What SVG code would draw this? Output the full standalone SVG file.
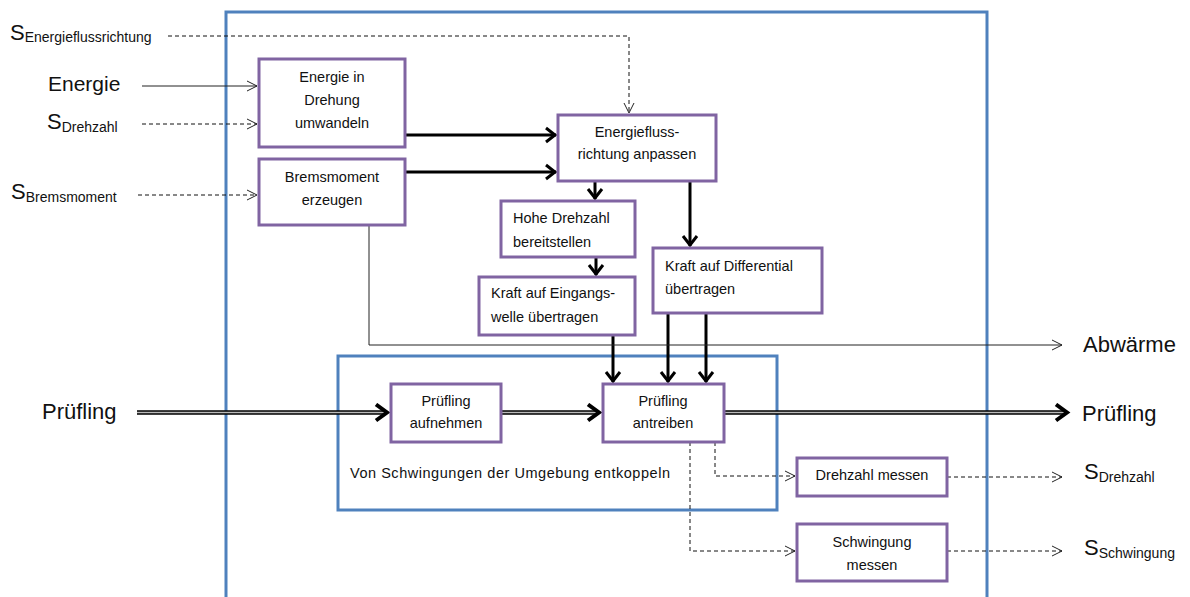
<svg xmlns="http://www.w3.org/2000/svg" width="1190" height="597" viewBox="0 0 1190 597">
<style>
text{font-family:"Liberation Sans",Arial,sans-serif;fill:#111}
.bx{fill:#fff;stroke:#8064A2;stroke-width:3}
.bl{fill:none;stroke:#4F81BD;stroke-width:3}
.t{font-size:14.5px}
.c{text-anchor:middle}
.thin{fill:none;stroke:#222;stroke-width:1}
.dash{fill:none;stroke:#111;stroke-width:1;stroke-dasharray:4 3}
.thick{fill:none;stroke:#000;stroke-width:3}
.big{font-size:22px}
</style>
<defs>
<marker id="oa" markerUnits="userSpaceOnUse" markerWidth="14" markerHeight="14" viewBox="-12 -7 14 14" refX="0" refY="0" orient="auto"><path d="M-10,-5 L0,0 L-10,5" fill="none" stroke="#222" stroke-width="1"/></marker>
<marker id="ta" markerUnits="userSpaceOnUse" markerWidth="18" markerHeight="18" viewBox="-14 -9 16 18" refX="0" refY="0" orient="auto"><path d="M-10,-7 L-1,0 L-10,7" fill="none" stroke="#000" stroke-width="3"/></marker>
<marker id="da" markerUnits="userSpaceOnUse" markerWidth="20" markerHeight="20" viewBox="-16 -10 18 20" refX="0" refY="0" orient="auto"><path d="M-12,-8 L-1,0 L-12,8" fill="none" stroke="#000" stroke-width="4"/></marker>
</defs>

<g id="containers">
<rect id="outer" class="bl" x="226" y="12" width="761" height="620"/>
<rect id="inner" class="bl" x="338" y="356" width="439" height="154"/>
<text class="t" x="350" y="478" textLength="320" lengthAdjust="spacing">Von Schwingungen der Umgebung entkoppeln</text>
</g>

<g id="connectors">
<path class="dash" d="M168,36 H629 V113" marker-end="url(#oa)"/>
<path class="thin" d="M142,86 H257" marker-end="url(#oa)"/>
<path class="dash" d="M142,124 H257" marker-end="url(#oa)"/>
<path class="dash" d="M138,195 H257" marker-end="url(#oa)"/>
<path class="thick" d="M405,135 H556" marker-end="url(#ta)"/>
<path class="thick" d="M405,172 H556" marker-end="url(#ta)"/>
<path class="thick" d="M595,181 V199" marker-end="url(#ta)"/>
<path class="thick" d="M690,181 V246" marker-end="url(#ta)"/>
<path class="thick" d="M596,257 V275" marker-end="url(#ta)"/>
<path class="thick" d="M613,335 V382" marker-end="url(#ta)"/>
<path class="thick" d="M668,313 V382" marker-end="url(#ta)"/>
<path class="thick" d="M706,313 V382" marker-end="url(#ta)"/>
<path class="thin" d="M369,225 V345 H1062" marker-end="url(#oa)"/>
<g id="pruefling-flow">
<path d="M137,412.5 H385" stroke="#000" stroke-width="4.5" fill="none"/>
<path d="M137,412.5 H385" stroke="#bbb" stroke-width="1.3" fill="none"/>
<path d="M375,412.5 H388" stroke="none" fill="none" marker-end="url(#da)"/>
<path d="M501,412.5 H597" stroke="#000" stroke-width="4.5" fill="none"/>
<path d="M501,412.5 H597" stroke="#bbb" stroke-width="1.3" fill="none"/>
<path d="M590,412.5 H600" stroke="none" fill="none" marker-end="url(#da)"/>
<path d="M724,412.5 H1064" stroke="#000" stroke-width="4.5" fill="none"/>
<path d="M724,412.5 H1064" stroke="#bbb" stroke-width="1.3" fill="none"/>
<path d="M1055,412.5 H1068" stroke="none" fill="none" marker-end="url(#da)"/>
</g>
<path class="dash" d="M715,442 V476 H795" marker-end="url(#oa)"/>
<path class="dash" d="M690,442 V551 H795" marker-end="url(#oa)"/>
<path class="dash" d="M947,477 H1062" marker-end="url(#oa)"/>
<path class="dash" d="M947,551 H1062" marker-end="url(#oa)"/>
</g>

<g id="labels">
<text x="10" y="40"><tspan font-size="22">S</tspan><tspan font-size="14" dy="2">Energieflussrichtung</tspan></text>
<text x="48" y="91" font-size="21">Energie</text>
<text x="47" y="129"><tspan font-size="22">S</tspan><tspan font-size="14" dy="3">Drehzahl</tspan></text>
<text x="11" y="199"><tspan font-size="22">S</tspan><tspan font-size="14" dy="3">Bremsmoment</tspan></text>
<text class="big" x="42" y="419">Prüfling</text>
<text class="big" x="1083" y="352">Abwärme</text>
<text class="big" x="1082" y="421">Prüfling</text>
<text x="1084" y="479"><tspan font-size="22">S</tspan><tspan font-size="14" dy="3">Drehzahl</tspan></text>
<text x="1084" y="555"><tspan font-size="22">S</tspan><tspan font-size="14" dy="3">Schwingung</tspan></text>
</g>

<g id="n1"><rect class="bx" x="259" y="59" width="146" height="88"/>
<text class="t c" x="332" y="82">Energie in</text><text class="t c" x="332" y="105">Drehung</text><text class="t c" x="332" y="128">umwandeln</text></g>
<g id="n2"><rect class="bx" x="259" y="159" width="146" height="66"/>
<text class="t c" x="332" y="182">Bremsmoment</text><text class="t c" x="332" y="205">erzeugen</text></g>
<g id="n3"><rect class="bx" x="558" y="115" width="158" height="66"/>
<text class="t c" x="637" y="137">Energiefluss-</text><text class="t c" x="637" y="159">richtung anpassen</text></g>
<g id="n4"><rect class="bx" x="501" y="201" width="134" height="56"/>
<text class="t" x="513" y="223">Hohe Drehzahl</text><text class="t" x="513" y="247">bereitstellen</text></g>
<g id="n5"><rect class="bx" x="479" y="277" width="156" height="58"/>
<text class="t" x="491" y="298">Kraft auf Eingangs-</text><text class="t" x="491" y="322">welle übertragen</text></g>
<g id="n6"><rect class="bx" x="653" y="248" width="169" height="65"/>
<text class="t" x="665" y="271">Kraft auf Differential</text><text class="t" x="665" y="294">übertragen</text></g>
<g id="n7"><rect class="bx" x="391" y="384" width="110" height="58"/>
<text class="t c" x="446" y="406">Prüfling</text><text class="t c" x="446" y="428">aufnehmen</text></g>
<g id="n8"><rect class="bx" x="603" y="384" width="121" height="58"/>
<text class="t c" x="663" y="406">Prüfling</text><text class="t c" x="663" y="428">antreiben</text></g>
<g id="n9"><rect class="bx" x="797" y="458" width="150" height="38"/>
<text class="t c" x="872" y="480">Drehzahl messen</text></g>
<g id="n10"><rect class="bx" x="797" y="524" width="150" height="57"/>
<text class="t c" x="872" y="547">Schwingung</text><text class="t c" x="872" y="570">messen</text></g>
</svg>
